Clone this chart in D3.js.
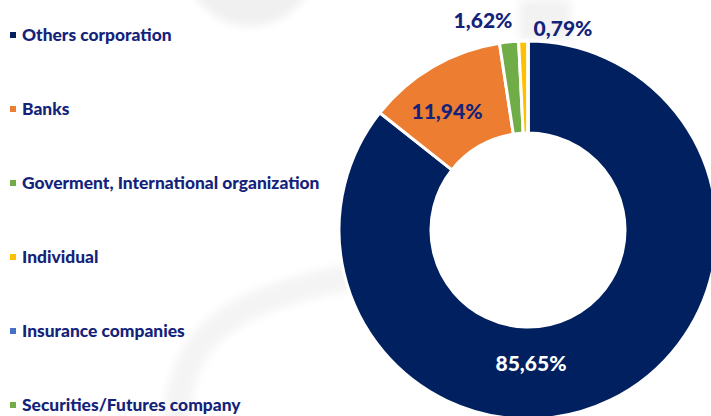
<!DOCTYPE html>
<html>
<head>
<meta charset="utf-8">
<script src="https://cdn.jsdelivr.net/npm/d3@7"></script>
<style>
  html, body { margin: 0; padding: 0; background: #fff; }
  svg { display: block; }
</style>
</head>
<body>
<div class="chart"></div>
<script>
  'use strict';

  var categories = ["Others corporation", "Banks", "Goverment, International organization",
                    "Individual", "Insurance companies", "Securities/Futures company"];
  var shares = [85.65, 11.94, 1.62, 0.79, 0, 0];
  var labels = ["85,65%", "11,94%", "1,62%", "0,79%", "", ""];
  var colors = ["#002060", "#ED7D31", "#70AD47", "#FFC000", "#4472C4", "#70AD47"];

  var w = 711, h = 416;
  var textColor = "#14237A";
  var cx = 528, cy = 230, outerR = 189, innerR = 97;

  var svg = d3.select(".chart").append("svg").attr("width", w).attr("height", h);

  // faint watermark behind everything
  var defs = svg.append("defs");
  defs.append("filter").attr("id", "soft").append("feGaussianBlur").attr("stdDeviation", 4);
  var wm = svg.append("g").attr("filter", "url(#soft)");
  wm.append("circle").attr("cx", 250).attr("cy", -40).attr("r", 66).style("fill", "#f0f0f0");
  wm.append("path").attr("d", "M175,430 C180,330 230,300 360,275")
    .style("fill", "none").style("stroke", "#f4f4f4").style("stroke-width", 26);
  wm.append("rect").attr("x", 520).attr("y", 0).attr("width", 50).attr("height", 40).style("fill", "#f2f2f2");

  // legend
  var legend = svg.append("g").attr("class", "legend");
  var yLegend = d3.scalePoint().domain(categories).range([41, 411]);
  var item = legend.selectAll("g").data(categories).enter().append("g")
    .attr("transform", function(d) { return "translate(0," + yLegend(d) + ")"; });
  item.append("rect").attr("x", 10).attr("y", -9).attr("width", 6).attr("height", 6)
    .style("fill", function(d, i) { return colors[i]; });
  item.append("text").attr("x", 22).attr("y", 0).text(function(d) { return d; })
    .style("font-family", "Lato, 'Open Sans', sans-serif").style("font-weight", "900")
    .style("font-size", "17.4px").style("fill", textColor);

  // donut
  var pie = d3.pie().sort(null).value(function(d) { return d; });
  var arcs = pie(shares);
  var arc = d3.arc().innerRadius(innerR).outerRadius(outerR);
  var g = svg.append("g").attr("transform", "translate(" + cx + "," + cy + ")");
  g.selectAll("path").data(arcs).enter().append("path")
    .attr("d", arc)
    .style("fill", function(d, i) { return colors[i]; })
    .style("stroke", "#fff").style("stroke-width", 3);

  // data labels
  var labelPos = [[3, 141], [-81, -111], [-45, -202], [35, -194]];
  labels.forEach(function(t, i) {
    if (!t) return;
    g.append("text").attr("x", labelPos[i][0]).attr("y", labelPos[i][1])
      .attr("text-anchor", "middle")
      .style("font-family", "Lato, 'Open Sans', sans-serif").style("font-weight", "900")
      .style("font-size", "21px")
      .style("fill", i === 0 ? "#fff" : textColor)
      .text(t);
  });
</script>
</body>
</html>
